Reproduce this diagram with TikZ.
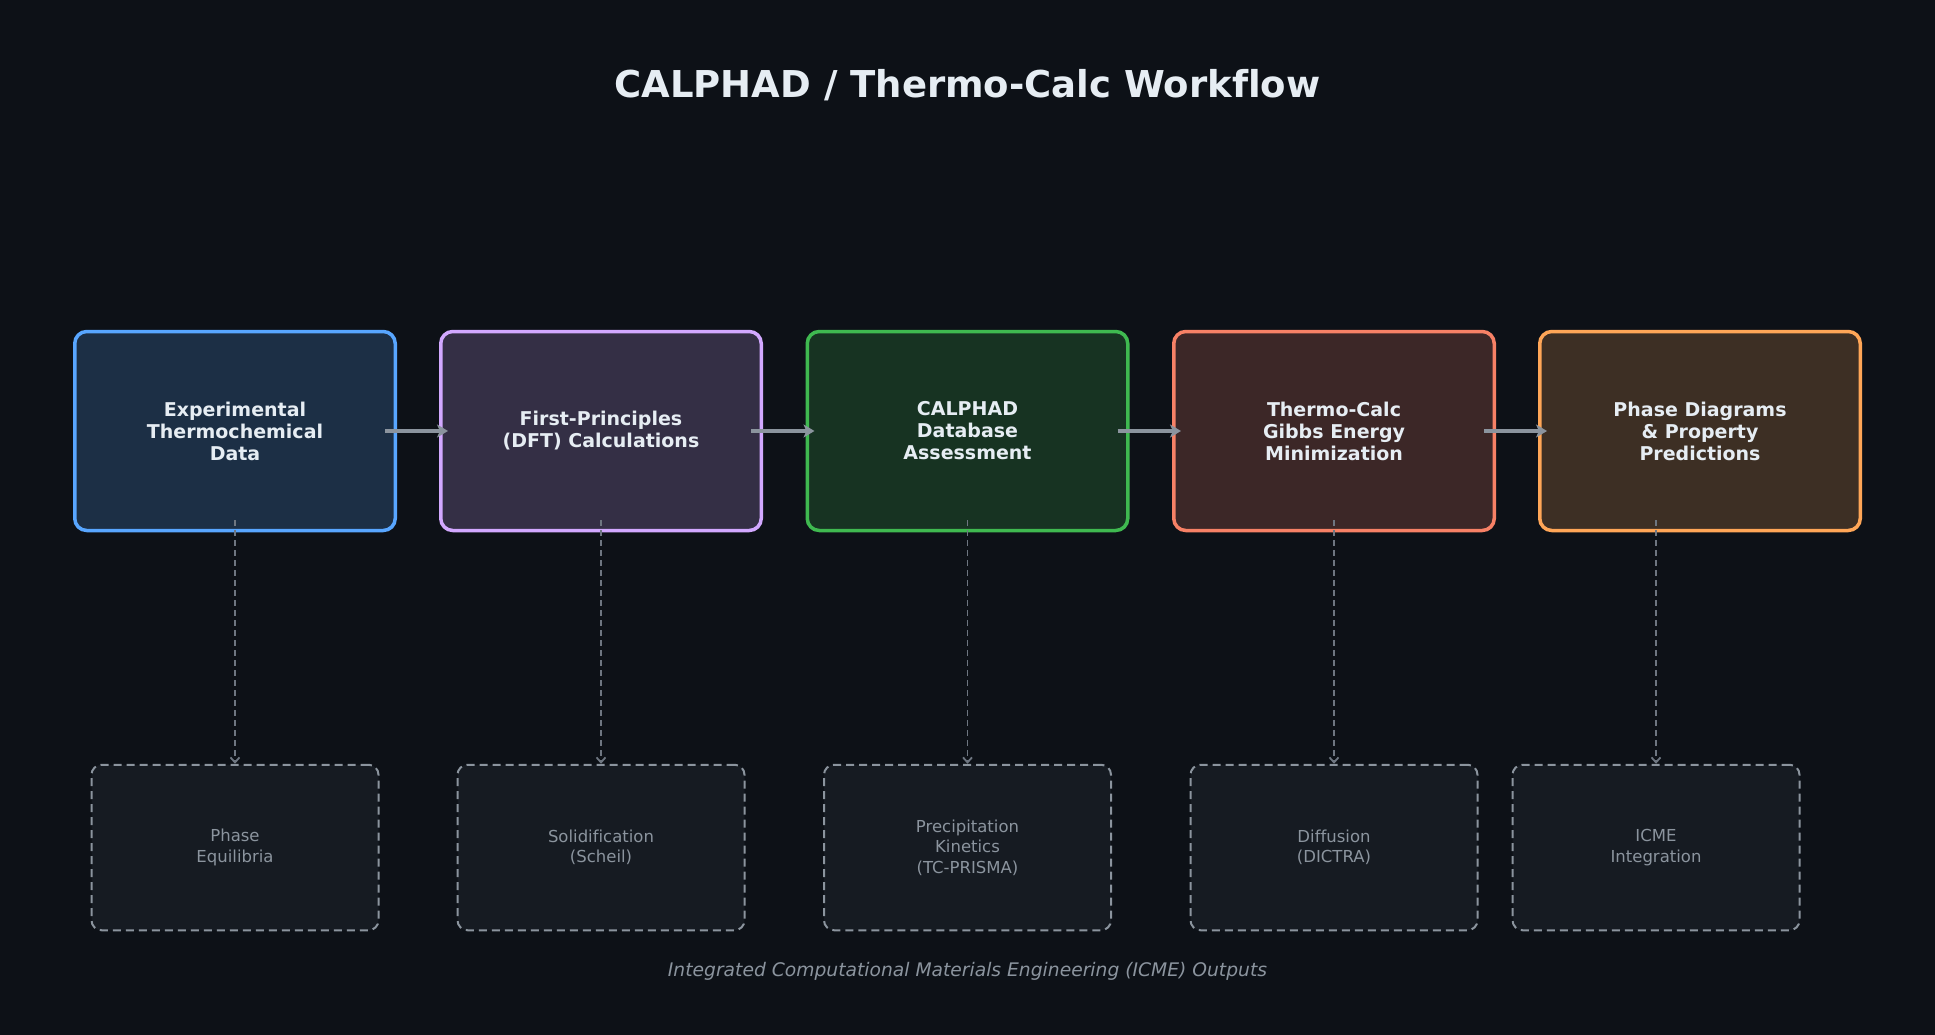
\documentclass[tikz,border=0pt]{standalone}
\usepackage{fontspec}
\setmainfont{DejaVu Sans}[Ligatures=NoCommon]
\usetikzlibrary{arrows.meta}
\definecolor{bg}{HTML}{0D1117}
\definecolor{txt}{HTML}{E6EDF3}
\definecolor{muted}{HTML}{8B949E}
\definecolor{dim}{HTML}{6E7681}
\definecolor{subfill}{HTML}{161B22}
\definecolor{cA}{HTML}{58A6FF}
\definecolor{cB}{HTML}{D2A8FF}
\definecolor{cC}{HTML}{3FB950}
\definecolor{cD}{HTML}{F78166}
\definecolor{cE}{HTML}{FFA657}
\colorlet{fA}{cA!20!bg}
\colorlet{fB}{cB!20!bg}
\colorlet{fC}{cC!20!bg}
\colorlet{fD}{cD!20!bg}
\colorlet{fE}{cE!20!bg}
\tikzset{
  mainbox/.style={draw=c#1, fill=f#1, line width=3.5pt, rounded corners=12pt,
    minimum width=320.5pt, minimum height=199pt, inner sep=0pt, align=center,
    text=txt, font=\fontsize{19}{22}\selectfont\bfseries},
  subbox/.style={draw=muted, fill=subfill, line width=2pt, rounded corners=10pt,
    dash pattern=on 8pt off 5pt,
    minimum width=287pt, minimum height=165.5pt, inner sep=0pt, align=center,
    text=muted, font=\fontsize{16.5}{20.5}\selectfont},
  flowarrow/.style={draw=muted, line width=4pt, -{Stealth[length=11pt,width=13pt,inset=3pt]}},
  droparrow/.style={draw=dim, line width=1.8pt, dash pattern=on 6pt off 4pt,
    -{Straight Barb[length=5pt,width=9pt]}},
}
\begin{document}
\begin{tikzpicture}[x=1pt,y=-1pt]
\fill[bg] (0,0) rectangle (1935,1035);
\useasboundingbox (0,0) rectangle (1935,1035);

\node[text=txt, font=\fontsize{37}{44}\selectfont\bfseries] (title) at (967.5,85) {CALPHAD / Thermo-Calc Workflow};

\node[mainbox=A] (t1) at (235,431) {Experimental\\Thermochemical\\Data};
\node[mainbox=B] (t2) at (601,431) {First-Principles\\(DFT) Calculations};
\node[mainbox=C] (t3) at (967.5,431) {CALPHAD\\Database\\Assessment};
\node[mainbox=D] (t4) at (1334,431) {Thermo-Calc\\Gibbs Energy\\Minimization};
\node[mainbox=E] (t5) at (1700,431) {Phase Diagrams\\\&~Property\\Predictions};

\node[subbox] (b1) at (235,847.5) {Phase\\Equilibria};
\node[subbox] (b2) at (601,847.5) {Solidification\\(Scheil)};
\node[subbox] (b3) at (967.5,847.5) {Precipitation\\Kinetics\\(TC-PRISMA)};
\node[subbox] (b4) at (1334,847.5) {Diffusion\\(DICTRA)};
\node[subbox] (b5) at (1656,847.5) {ICME\\Integration};

\foreach \a/\b in {t1/t2,t2/t3,t3/t4,t4/t5}
  \draw[flowarrow] ([xshift=-12pt]\a.east) -- ([xshift=9pt]\b.west);

\foreach \i in {1,...,5}{
  \coordinate (s\i) at (b\i.north |- t\i.south);
  \draw[droparrow] ([yshift=12pt]s\i) -- (b\i.north);
}

\node[text=muted, font=\fontsize{18.7}{22}\selectfont\itshape] (foot) at (967.5,971)
  {Integrated Computational Materials Engineering (ICME) Outputs};
\end{tikzpicture}
\end{document}
